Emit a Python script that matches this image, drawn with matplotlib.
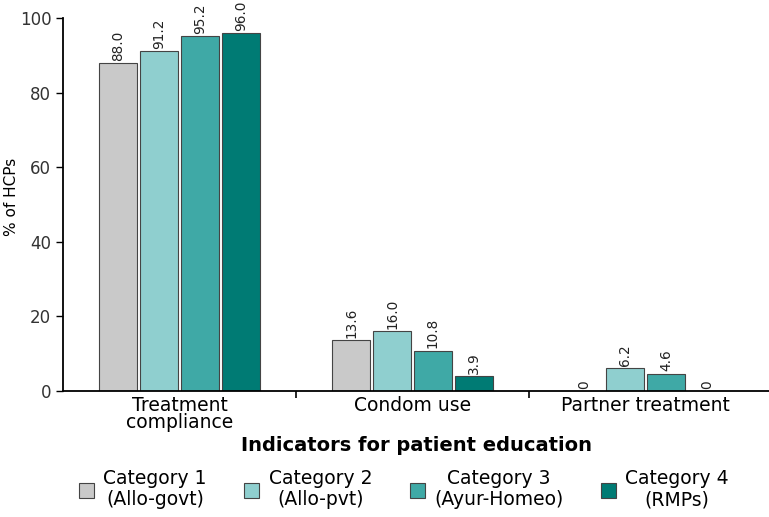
import matplotlib
matplotlib.use('Agg')
import matplotlib.pyplot as plt
import numpy as np

plt.rcParams['font.family'] = ['DejaVu Sans']

# Data
indicators = ['Treatment\ncompliance', 'Condom use', 'Partner treatment']
categories = ['Category 1\n(Allo-govt)', 'Category 2\n(Allo-pvt)',
              'Category 3\n(Ayur-Homeo)', 'Category 4\n(RMPs)']
cat1 = [88.0, 13.6, 0]
cat2 = [91.2, 16.0, 6.2]
cat3 = [95.2, 10.8, 4.6]
cat4 = [96.0, 3.9, 0]
labels1 = ['88.0', '13.6', '0']
labels2 = ['91.2', '16.0', '6.2']
labels3 = ['95.2', '10.8', '4.6']
labels4 = ['96.0', '3.9', '0']
colors = ['#c9c9c9', '#8fcfcf', '#3fa9a6', '#007b74']

fig = plt.figure(figsize=(7.69, 5.17), dpi=100)
ax = fig.add_axes([0.082, 0.244, 0.918, 0.721])

x = np.arange(len(indicators))
width = 0.163
series = [cat1, cat2, cat3, cat4]
texts = [labels1, labels2, labels3, labels4]
for i, (vals, labs) in enumerate(zip(series, texts)):
    pos = x + (i - 1.5) * (width + 0.012)
    bars = ax.bar(pos, vals, width, color=colors[i], edgecolor='#444444',
                  linewidth=0.8, label=categories[i])
    for b, lab in zip(bars, labs):
        ax.text(b.get_x() + b.get_width() / 2, b.get_height() + 0.6, lab,
                rotation=90, ha='center', va='bottom', fontsize=9.8,
                color='#222222', clip_on=False)

ax.set_xlim(-0.5, 2.53)
ax.set_ylim(0, 100)
ax.set_yticks([0, 20, 40, 60, 80, 100])
ax.tick_params(axis='y', labelsize=12, length=5, width=1, labelcolor='#333333')
ax.set_xticks(x)
ax.set_xticklabels(indicators, fontsize=13.5, linespacing=0.85)
ax.tick_params(axis='x', length=0, pad=4)
ax.set_xticks([0.5, 1.5], minor=True)
ax.tick_params(axis='x', which='minor', length=5, width=1.2)
ax.spines['top'].set_visible(False)
ax.spines['right'].set_visible(False)
ax.spines['left'].set_linewidth(1.3)
ax.spines['bottom'].set_linewidth(1.3)
ax.set_ylabel('% of HCPs', fontsize=11)
ax.yaxis.set_label_coords(-0.062, 0.52)
ax.set_xlabel('Indicators for patient education', fontsize=14,
              fontweight='bold', labelpad=3)

leg = fig.legend(loc='lower center', bbox_to_anchor=(0.525, -0.018), ncol=4,
                 frameon=False, fontsize=13.5, handlelength=0.8,
                 handleheight=0.9, columnspacing=2.0, handletextpad=0.5,
                 labelspacing=0.2)
for t in leg.get_texts():
    t.set_multialignment('center')
    t.set_linespacing(1.15)

plt.savefig('out.png', dpi=100)
